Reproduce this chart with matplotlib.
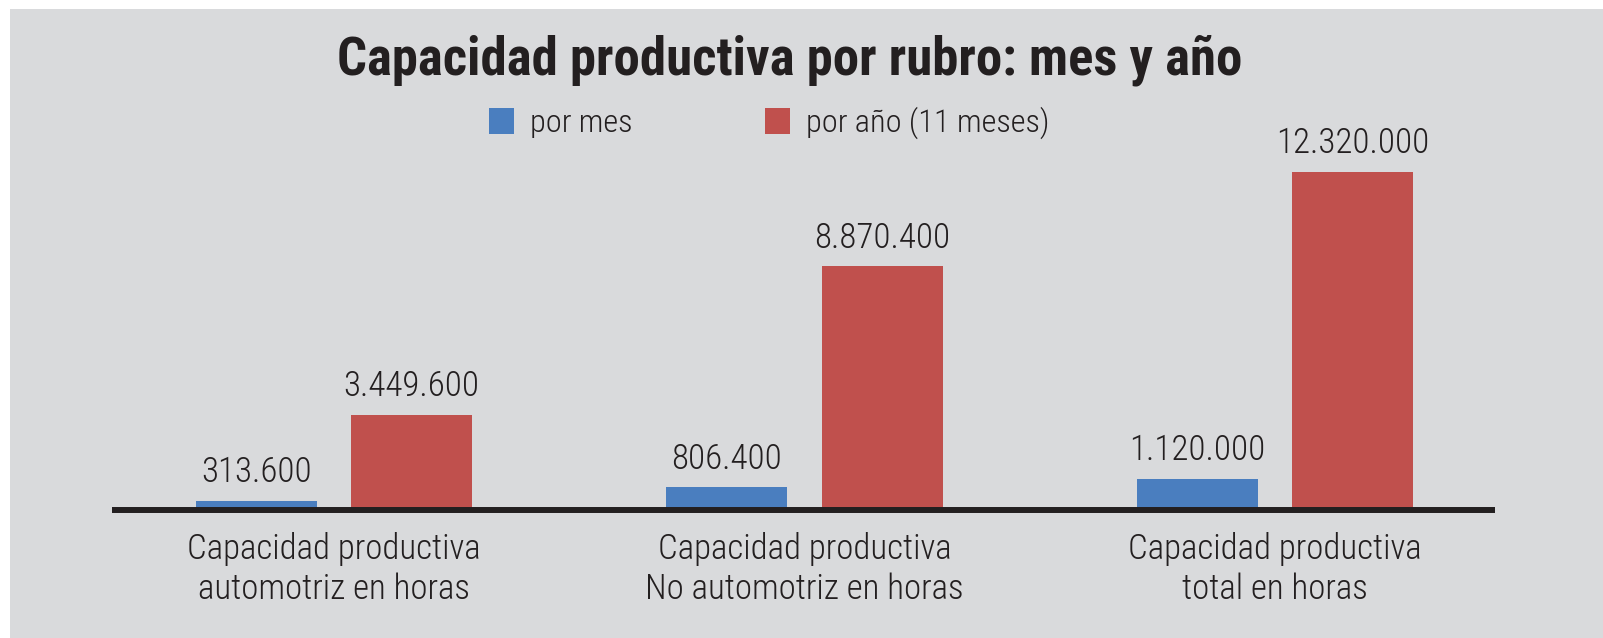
import matplotlib
matplotlib.use('Agg')
import matplotlib.pyplot as plt
from matplotlib import font_manager
from matplotlib.patches import Rectangle
import numpy as np

# data
categories = ['Capacidad productiva\nautomotriz en horas',
              'Capacidad productiva\nNo automotriz en horas',
              'Capacidad productiva\ntotal en horas']
por_mes = [313600, 806400, 1120000]
por_anio = [3449600, 8870400, 12320000]
series_names = ['por mes', 'por año (11 meses)']

BLUE = '#4a7ebf'
RED = '#c0504d'
BG = '#d9dadc'
INK = '#231f20'

# pick a condensed face if one is around
entries = font_manager.fontManager.ttflist
names = {f.name for f in entries}
family, stretch = 'Liberation Sans', 'normal'
for cand in ['Roboto Condensed', 'Liberation Sans Narrow', 'Open Sans Condensed']:
    if cand in names:
        family = cand
        break
else:
    if any(f.name == 'DejaVu Sans' and str(f.stretch) in ('condensed', 'semi-condensed') for f in entries):
        family, stretch = 'DejaVu Sans', 'condensed'
plt.rcParams['font.family'] = [family, 'DejaVu Sans']
plt.rcParams['font.stretch'] = stretch
narrow = family != 'Liberation Sans'
k = 1.0 if narrow else 0.8   # shrink wide fallback so widths stay close
LIGHT = 'light'


def fmt(v):
    return f"{v:,}".replace(",", ".")


W, H = 1603, 638
fig = plt.figure(figsize=(W / 100, H / 100), dpi=100, facecolor='white')
fig.patches.append(Rectangle((10 / W, 0), 1, (H - 9) / H, transform=fig.transFigure,
                             facecolor=BG, edgecolor='none', zorder=-10))

ax = fig.add_axes([112 / W, (H - 509.5) / H, (1495 - 112) / W, 411 / H])
ax.set_facecolor('none')

x = np.arange(len(categories))
width = 0.257
off = 0.165
b1 = ax.bar(x - off, por_mes, width, color=BLUE, label=series_names[0], zorder=2)
b2 = ax.bar(x + off, por_anio, width, color=RED, label=series_names[1], zorder=2)

for bars in (b1, b2):
    for r in bars:
        ax.annotate(fmt(int(r.get_height())), (r.get_x() + r.get_width() / 2, r.get_height()),
                    xytext=(0, 8.5), textcoords='offset points', ha='center', va='bottom',
                    fontsize=25.2 * k, fontweight=LIGHT, color=INK)

ax.set_xlim(-0.472, 2.468)
ax.set_ylim(0, 15.0e6)
for s in ['top', 'right', 'left']:
    ax.spines[s].set_visible(False)
ax.spines['bottom'].set_linewidth(4.3)
ax.spines['bottom'].set_color(INK)
ax.spines['bottom'].set_capstyle('butt')
ax.spines['bottom'].set_zorder(3)
ax.set_yticks([])
ax.set_xticks(x)
ax.set_xticklabels(categories, fontsize=25.1 * k, fontweight=LIGHT, color=INK, linespacing=1.27)
ax.tick_params(axis='x', length=0, pad=16)

fig.text(790 / W, (H - 75) / H, 'Capacidad productiva por rubro: mes y año',
         ha='center', va='baseline', fontsize=38 * k, fontweight='bold', color=INK)

fig.legend(handles=[b1, b2], labels=series_names, loc='center left',
           bbox_to_anchor=(489 / W, 1 - 123 / H), ncol=2, frameon=False,
           prop={'size': 23.3 * k, 'weight': LIGHT}, handlelength=0.77 / k,
           handleheight=0.84 / k, handletextpad=0.5 / k, columnspacing=4.1 / k,
           borderpad=0, borderaxespad=0, labelcolor=INK)

fig.savefig('out.png', dpi=100)
